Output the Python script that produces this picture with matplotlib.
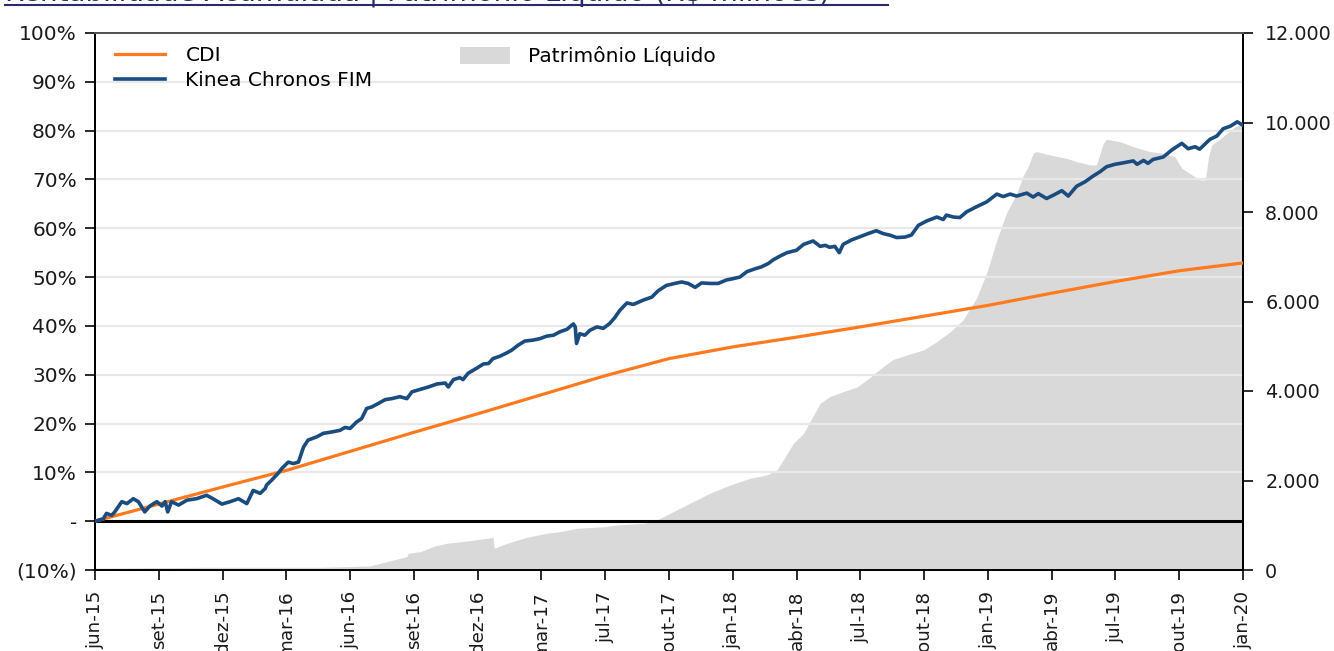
import matplotlib
matplotlib.use("Agg")
import matplotlib.pyplot as plt
from matplotlib.lines import Line2D
from matplotlib.patches import Patch

plt.rcParams['font.family'] = ['DejaVu Sans']

# x tick labels (evenly spaced on the chart)
tick_labels = ["jun-15", "set-15", "dez-15", "mar-16", "jun-16", "set-16", "dez-16",
               "mar-17", "jul-17", "out-17", "jan-18", "abr-18", "jul-18", "out-18",
               "jan-19", "abr-19", "jul-19", "out-19", "jan-20"]

# time positions expressed in tick-interval units (0 = jun-15, 18 = jan-20)
t_kinea = [0.00, 0.13, 0.18, 0.26, 0.31, 0.42, 0.50, 0.60, 0.68, 0.78, 0.86, 0.97, 1.05, 1.10,
           1.14, 1.20, 1.31, 1.44, 1.59, 1.75, 1.85, 1.99, 2.12, 2.25, 2.38, 2.48, 2.59, 2.67,
           2.69, 2.77, 2.87, 2.93, 3.03, 3.11, 3.19, 3.27, 3.34, 3.48, 3.58, 3.68, 3.84, 3.92,
           4.00, 4.10, 4.18, 4.26, 4.34, 4.44, 4.55, 4.65, 4.78, 4.89, 4.97, 5.10, 5.23, 5.36,
           5.49, 5.54, 5.62, 5.72, 5.77, 5.85, 5.98, 6.09, 6.17, 6.24, 6.35, 6.46, 6.53, 6.64,
           6.74, 6.87, 6.98, 7.08, 7.19, 7.29, 7.40, 7.50, 7.53, 7.55, 7.60, 7.68, 7.76, 7.87,
           7.97, 8.07, 8.15, 8.23, 8.34, 8.44, 8.60, 8.73, 8.83, 8.96, 9.09, 9.20, 9.30, 9.41,
           9.51, 9.64, 9.77, 9.90, 10.01, 10.11, 10.22, 10.35, 10.45, 10.56, 10.63, 10.74,
           10.85, 11.00, 11.11, 11.26, 11.37, 11.45, 11.52, 11.60, 11.67, 11.73, 11.86, 12.02,
           12.12, 12.25, 12.36, 12.46, 12.57, 12.70, 12.80, 12.91, 13.04, 13.20, 13.30, 13.35,
           13.46, 13.56, 13.67, 13.82, 13.98, 14.14, 14.24, 14.35, 14.45, 14.61, 14.71, 14.79,
           14.92, 15.03, 15.16, 15.26, 15.39, 15.52, 15.65, 15.76, 15.86, 15.99, 16.12, 16.28,
           16.34, 16.44, 16.51, 16.59, 16.75, 16.88, 17.04, 17.14, 17.25, 17.32, 17.48, 17.59,
           17.69, 17.80, 17.91, 18.00]
kinea = [0.0, 0.5, 1.6, 1.2, 1.9, 4.0, 3.6, 4.6, 4.0, 1.9, 3.1, 4.0, 3.1, 4.0,
         1.9, 4.0, 3.3, 4.3, 4.6, 5.3, 4.6, 3.5, 4.0, 4.6, 3.6, 6.3, 5.7, 6.7,
         7.4, 8.4, 9.8, 10.8, 12.1, 11.8, 12.1, 15.2, 16.6, 17.3, 18.0, 18.2, 18.6, 19.2,
         19.0, 20.3, 21.0, 23.1, 23.4, 24.1, 24.9, 25.1, 25.5, 25.1, 26.5, 27.0, 27.5, 28.1,
         28.3, 27.5, 29.0, 29.4, 29.0, 30.3, 31.3, 32.2, 32.3, 33.3, 33.8, 34.5, 35.0, 36.1,
         36.9, 37.1, 37.4, 37.9, 38.1, 38.8, 39.3, 40.4, 39.8, 36.4, 38.4, 38.1, 39.1, 39.8,
         39.5, 40.5, 41.7, 43.2, 44.7, 44.4, 45.3, 45.9, 47.2, 48.3, 48.7, 49.0, 48.7, 47.9,
         48.8, 48.7, 48.7, 49.4, 49.7, 50.0, 51.1, 51.7, 52.1, 52.8, 53.5, 54.3,
         55.0, 55.5, 56.7, 57.4, 56.3, 56.5, 56.1, 56.3, 55.0, 56.7, 57.6, 58.4,
         58.9, 59.5, 58.9, 58.6, 58.1, 58.2, 58.6, 60.6, 61.5, 62.3, 61.8, 62.7,
         62.3, 62.2, 63.4, 64.4, 65.4, 67.0, 66.5, 67.0, 66.6, 67.2, 66.4, 67.1,
         66.1, 66.8, 67.7, 66.6, 68.6, 69.5, 70.7, 71.6, 72.6, 73.1, 73.4, 73.8,
         73.1, 73.9, 73.3, 74.1, 74.6, 76.0, 77.4, 76.3, 76.7, 76.2, 78.2, 78.9,
         80.4, 80.9, 81.8, 81.1]

t_cdi = [0, 1, 2, 3, 4, 5, 6, 7, 8, 9, 10, 11, 12, 13, 14, 15, 16, 17, 18]
cdi = [0.0, 3.5, 7.0, 10.4, 14.3, 18.2, 22.0, 25.9, 29.8, 33.3, 35.7, 37.7, 39.8,
       42.0, 44.2, 46.7, 49.1, 51.3, 52.9]

t_pl = [0.00, 1.65, 3.53, 4.31, 4.57, 4.89, 4.91, 5.10, 5.33, 5.51, 5.88, 6.24, 6.26, 6.46,
        6.77, 7.08, 7.29, 7.55, 7.99, 8.18, 8.60, 8.81, 9.22, 9.64, 9.96, 10.27, 10.53,
        10.69, 10.79, 10.95, 11.11, 11.37, 11.52, 11.73, 11.94, 12.10, 12.36, 12.52, 12.73,
        12.99, 13.20, 13.41, 13.61, 13.82, 13.98, 14.14, 14.29, 14.45, 14.55, 14.63, 14.71,
        14.76, 14.97, 15.23, 15.39, 15.60, 15.70, 15.81, 15.86, 16.07, 16.28, 16.54, 16.75,
        16.93, 17.04, 17.20, 17.33, 17.41, 17.46, 17.51, 17.72, 17.88, 18.00]
pl = [40, 60, 60, 90, 186, 298, 373, 410, 536, 596, 655, 730, 485, 596,
      730, 820, 857, 931, 968, 1006, 1043, 1117, 1415, 1714, 1900, 2049, 2123,
      2235, 2458, 2831, 3055, 3726, 3874, 3985, 4083, 4246, 4544, 4709, 4805,
      4917, 5103, 5326, 5588, 6072, 6631, 7376, 7972, 8400, 8800, 9014, 9313,
      9350, 9275, 9201, 9126, 9052, 9052, 9536, 9626, 9573, 9461, 9350, 9313,
      9238, 8978, 8829, 8717, 8717, 9238, 9499, 9722, 9908, 9968]

left_ticks = [-10, 0, 10, 20, 30, 40, 50, 60, 70, 80, 90, 100]
left_labels = ["(10%)", "-", "10%", "20%", "30%", "40%", "50%", "60%", "70%", "80%", "90%", "100%"]
right_ticks = [0, 2000, 4000, 6000, 8000, 10000, 12000]
right_labels = ["0", "2.000", "4.000", "6.000", "8.000", "10.000", "12.000"]

ORANGE = "#FF7A1F"
BLUE = "#1A4C80"
GREY = "#D9D9D9"
TXT = "#1a1a1a"

W, H = 1334, 651
fig = plt.figure(figsize=(W / 100, H / 100), dpi=100)
ax = fig.add_axes([95 / W, 1 - 570 / H, (1243 - 95) / W, (570 - 33) / H])
ax2 = ax.twinx()

ax2.fill_between(t_pl, pl, 0, color=GREY, lw=0, label="Patrimônio Líquido")
ax2.set_ylim(0, 12000)
ax2.set_yticks(right_ticks)
ax2.set_yticklabels(right_labels)

ax.set_zorder(ax2.get_zorder() + 1)
ax.patch.set_visible(False)

ax.grid(axis="y", color="#E8E8E8", lw=1.6, zorder=1)
ax.set_axisbelow(True)
ax.axhline(0, color="black", lw=2.2, zorder=3)
ax.plot(t_cdi, cdi, color=ORANGE, lw=2.3, zorder=4, label="CDI")
ax.plot(t_kinea, kinea, color=BLUE, lw=2.6, zorder=5, label="Kinea Chronos FIM")

ax.set_xlim(0, 18)
ax.set_ylim(-10, 100)
ax.set_yticks(left_ticks)
ax.set_yticklabels(left_labels)
ax.set_xticks(range(len(tick_labels)))
ax.set_xticklabels(tick_labels, rotation=90)

for a in (ax, ax2):
    for s in a.spines.values():
        s.set_color("black")
        s.set_linewidth(1.4)
    a.tick_params(length=7, width=1.3, labelsize=13.8, colors=TXT, pad=8)
ax.spines["top"].set_color("#555555")
ax.tick_params(axis="x", labelsize=13.2, pad=8)
ax.tick_params(axis="y", labelsize=14.5, pad=6)
ax2.tick_params(axis="y", pad=9)

h1 = [Line2D([], [], color=ORANGE, lw=2.3), Line2D([], [], color=BLUE, lw=2.6)]
leg1 = ax.legend(h1, ["CDI", "Kinea Chronos FIM"], loc="upper left",
                 bbox_to_anchor=(0.0174, 0.975), frameon=False, fontsize=14.5,
                 borderpad=0, borderaxespad=0,
                 handlelength=2.5, handletextpad=1.0, labelspacing=0.3)
ax.add_artist(leg1)
leg2 = ax.legend([Patch(facecolor=GREY, lw=0)], ["Patrimônio Líquido"], loc="upper left",
                 bbox_to_anchor=(0.318, 0.975), frameon=False, fontsize=14.5,
                 borderpad=0, borderaxespad=0,
                 handlelength=2.5, handleheight=0.9, handletextpad=0.85)

# partially visible underlined title at the top edge
fig.text(5 / W, 1 - 2 / H, "Rentabilidade Acumulada | Patrimônio Líquido (R$ milhões)",
         color="#2B2A6B", fontsize=20, va="baseline", ha="left")
fig.add_artist(Line2D([5 / W, 888 / W], [1 - 4.5 / H, 1 - 4.5 / H], color="#2B2A6B",
                      lw=1.5, transform=fig.transFigure))

fig.savefig("out.png", dpi=100)
